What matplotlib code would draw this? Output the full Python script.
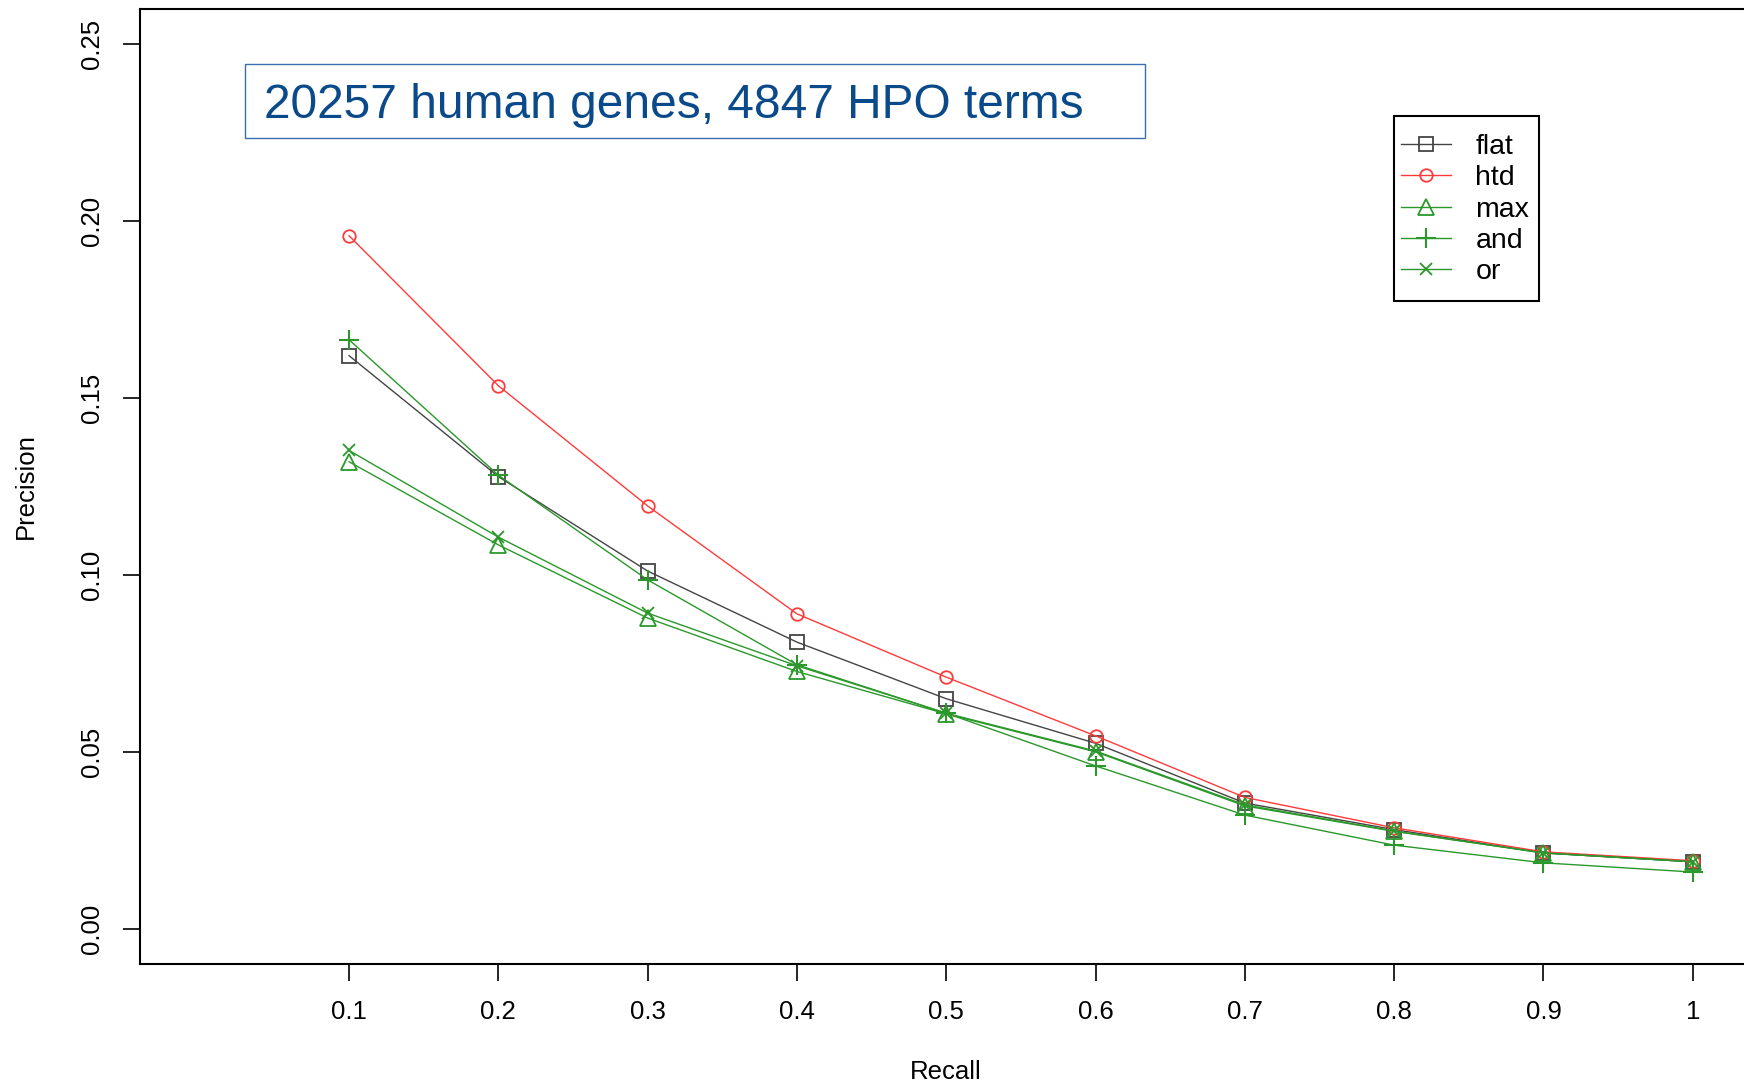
import matplotlib
matplotlib.use("Agg")
import matplotlib.pyplot as plt
from matplotlib.patches import Rectangle

plt.rcParams["font.family"] = ["Liberation Sans", "DejaVu Sans"]

# precision at fixed recall levels, one list per method
recall = [0.1, 0.2, 0.3, 0.4, 0.5, 0.6, 0.7, 0.8, 0.9, 1.0]
flat = [0.1620, 0.1278, 0.1011, 0.0810, 0.0650, 0.0524, 0.0355, 0.0280, 0.0214, 0.0189]
htd = [0.1959, 0.1535, 0.1195, 0.0890, 0.0711, 0.0545, 0.0371, 0.0285, 0.0217, 0.0192]
max_ = [0.1320, 0.1085, 0.0878, 0.0727, 0.0607, 0.0500, 0.0347, 0.0275, 0.0214, 0.0189]
and_ = [0.1665, 0.1282, 0.0986, 0.0746, 0.0609, 0.0460, 0.0321, 0.0236, 0.0186, 0.0160]
or_ = [0.1352, 0.1107, 0.0892, 0.0743, 0.0609, 0.0502, 0.0350, 0.0276, 0.0214, 0.0189]

xticks = [0.1, 0.2, 0.3, 0.4, 0.5, 0.6, 0.7, 0.8, 0.9, 1.0]
xticklabels = ["0.1", "0.2", "0.3", "0.4", "0.5", "0.6", "0.7", "0.8", "0.9", "1"]
yticks = [0.0, 0.05, 0.10, 0.15, 0.20, 0.25]
yticklabels = ["0.00", "0.05", "0.10", "0.15", "0.20", "0.25"]

W, H = 1744, 1083
fig = plt.figure(figsize=(W / 100, H / 100), dpi=100)
ax = fig.add_axes([140 / W, 1 - 964 / H, (1752.5 - 140) / W, (964 - 9) / H])

green = "#2a982a"
lw = 1.0
mew = 1.3
ax.plot(recall, flat, color="#444444", lw=lw, marker="s", ms=9.5, mfc="none", mew=mew, label="flat")
ax.plot(recall, htd, color="#ff3a3a", lw=lw, marker="o", ms=9, mfc="none", mew=mew, label="htd")
ax.plot(recall, max_, color=green, lw=lw, marker="^", ms=11, mfc="none", mew=mew, label="max")
ax.plot(recall, and_, color=green, lw=lw, marker="+", ms=14, mew=mew + 0.2, label="and")
ax.plot(recall, or_, color=green, lw=lw, marker="x", ms=9, mew=mew, label="or")

ax.set_xlim(-0.04, 1.04)
ax.set_ylim(-0.01, 0.26)
ax.set_xticks(xticks)
ax.set_xticklabels(xticklabels)
ax.set_yticks(yticks)
ax.set_yticklabels(yticklabels, rotation=90, va="center")
ax.tick_params(axis="both", length=12, width=1.2, labelsize=18.5)
ax.tick_params(axis="x", pad=14)
ax.tick_params(axis="y", pad=14)
for s in ax.spines.values():
    s.set_linewidth(1.5)

ax.set_xlabel("Recall", fontsize=18.5, labelpad=26)
ax.set_ylabel("Precision", fontsize=18.5, labelpad=30)

# legend entries without their own frame; the box is drawn separately
leg = ax.legend(loc="upper left", bbox_to_anchor=(1401 / W, 1 - 134.3 / H),
                bbox_transform=fig.transFigure, borderaxespad=0, borderpad=0,
                fontsize=20.5, frameon=False, handlelength=1.75,
                handletextpad=0.86, labelspacing=0.18)
leg.set_zorder(6)
ax.add_patch(Rectangle((1393.6 / W, 1 - 301.4 / H), 145.4 / W, 185.7 / H,
                       transform=fig.transFigure, facecolor="white",
                       edgecolor="black", linewidth=1.5, zorder=5, clip_on=False))

# dataset box
fig.patches.append(Rectangle((245 / W, 1 - 138 / H), 900 / W, 73.5 / H,
                             transform=fig.transFigure, facecolor="white",
                             edgecolor="#3d6db0", linewidth=1.0))
fig.text(263.6 / W, 1 - 117.5 / H, "20257 human genes, 4847 HPO terms",
         fontsize=34.5, color="#0b4a8a", va="baseline", ha="left")

fig.savefig("out.png", dpi=100)
